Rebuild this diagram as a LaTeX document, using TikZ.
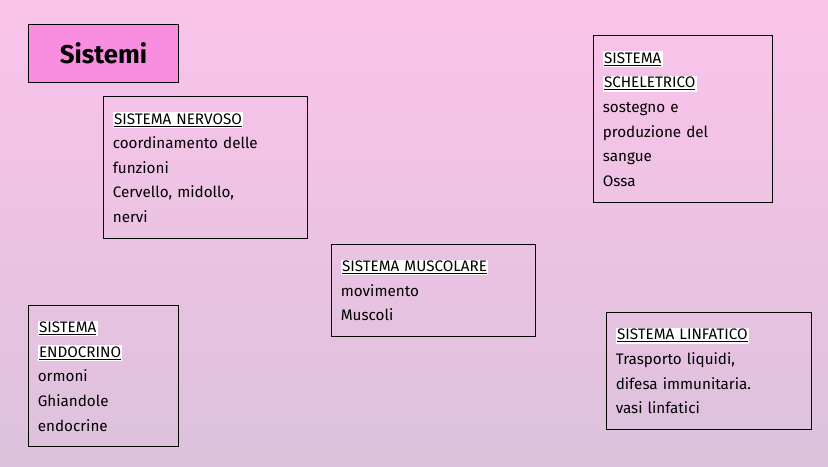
\documentclass[tikz,border=0pt]{standalone}
\usepackage{fontspec}
\setmainfont{Fira Sans}
\usetikzlibrary{positioning}
\definecolor{bgtop}{HTML}{FBC3EA}
\definecolor{bgbot}{HTML}{DCC2DC}
\definecolor{titlepink}{HTML}{F98EE0}
\newcommand{\heading}[1]{{\setlength{\fboxsep}{1pt}\colorbox{white}{\underline{#1}}}}
\tikzset{
  infobox/.style={draw=black, thick, anchor=north west, align=left, inner xsep=8pt,
    inner ysep=8pt, font=\fontsize{13}{21}\selectfont, text width=#1},
}
\begin{document}
\begin{tikzpicture}[x=0.03cm,y=-0.03cm]
  \shade[top color=bgtop, bottom color=bgbot] (0,0) rectangle (828,466);
  \useasboundingbox (0,0) rectangle (828,466);

  \node[draw=black, thick, fill=titlepink, anchor=north west, minimum width=4.5cm,
    minimum height=1.74cm, font=\fontsize{22}{24}\selectfont\bfseries] (title) at (28,24) {Sistemi};

  \node[infobox=5.55cm, minimum height=4.26cm] (nervoso) at (103,96)
    {\heading{SISTEMA NERVOSO}\\coordinamento delle\\funzioni\\Cervello, midollo,\\nervi};
  \node[infobox=4.8cm, minimum height=5.01cm] (scheletrico) at (593,35)
    {\heading{SISTEMA}\\\heading{SCHELETRICO}\\sostegno e\\produzione del\\sangue\\Ossa};
  \node[infobox=5.55cm, minimum height=2.76cm] (muscolare) at (331,244)
    {\heading{SISTEMA MUSCOLARE}\\movimento\\Muscoli};
  \node[infobox=3.95cm, minimum height=4.23cm] (endocrino) at (28,305)
    {\heading{SISTEMA}\\\heading{ENDOCRINO}\\ormoni\\Ghiandole\\endocrine};
  \node[infobox=5.6cm, minimum height=3.51cm] (linfatico) at (606,312)
    {\heading{SISTEMA LINFATICO}\\Trasporto liquidi,\\difesa immunitaria.\\vasi linfatici};
\end{tikzpicture}
\end{document}
